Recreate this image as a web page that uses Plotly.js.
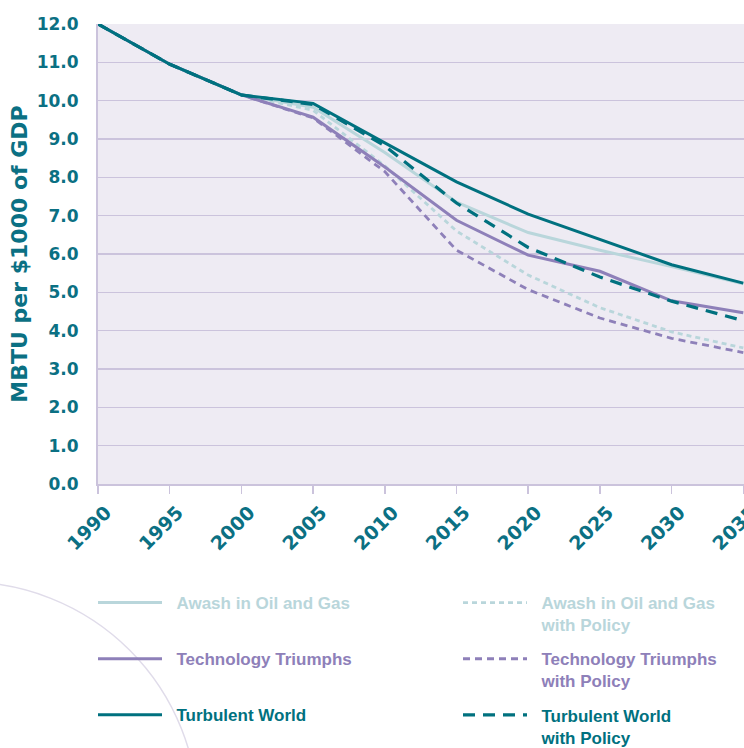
<!DOCTYPE html>
<html>
<head>
<meta charset="utf-8">
<script src="https://cdn.plot.ly/plotly-3.0.1.min.js"></script>
<style>
  html, body { margin: 0; padding: 0; background: #ffffff; overflow: hidden; width: 744px; height: 748px; }
  #chart { width: 744px; height: 760px; }
</style>
</head>
<body>
<div id="chart"></div>
<script>
// ---- data ----
const years = [1990, 1995, 2000, 2005, 2010, 2015, 2020, 2025, 2030, 2035];
const awash        = [12.0, 10.95, 10.15, 9.83, 8.65, 7.35, 6.56, 6.10, 5.67, 5.22];
const awashPolicy  = [12.0, 10.95, 10.15, 9.75, 8.30, 6.60, 5.45, 4.60, 3.97, 3.55];
const tech         = [12.0, 10.95, 10.15, 9.57, 8.27, 6.88, 5.97, 5.55, 4.78, 4.47];
const techPolicy   = [12.0, 10.95, 10.15, 9.55, 8.15, 6.10, 5.07, 4.33, 3.80, 3.43];
const turb         = [12.0, 10.95, 10.15, 9.93, 8.90, 7.88, 7.04, 6.38, 5.72, 5.24];
const turbPolicy   = [12.0, 10.95, 10.15, 9.90, 8.82, 7.33, 6.17, 5.40, 4.77, 4.26];

const seriesNames = [
  ["Awash in Oil and Gas"],
  ["Awash in Oil and Gas", "with Policy"],
  ["Technology Triumphs"],
  ["Technology Triumphs", "with Policy"],
  ["Turbulent World"],
  ["Turbulent World", "with Policy"]
];
const yTickVals = [0,1,2,3,4,5,6,7,8,9,10,11,12];
const xTickVals = years;

// ---- styles ----
const cLight = '#b9d6db';
const cPurple = '#8e80b9';
const cTeal = '#00717f';
const cText = '#0b7083';
const cGrid = '#cbc3dc';

function label(lines, color) {
  const pad = '\u00a0\u00a0';
  return lines.map(l => '<span style="color:' + color + '">' + pad + l + '</span>').join('<br>');
}

function tr(y, lines, color, dash, width, legend, rank) {
  return {
    x: years, y: y, name: label(lines, color), type: 'scatter', mode: 'lines',
    line: {color: color, dash: dash, width: width},
    legend: legend, legendgroup: 'g' + legend + rank, legendrank: rank,
    hoverinfo: 'skip'
  };
}

const data = [
  tr(awashPolicy, seriesNames[1], cLight, '5px,4px', 2.8, 'legend2', 1),
  tr(techPolicy,  seriesNames[3], cPurple, '7px,5px', 2.8, 'legend2', 2),
  tr(awash,       seriesNames[0], cLight, 'solid', 3, 'legend', 1),
  tr(tech,        seriesNames[2], cPurple, 'solid', 3, 'legend', 2),
  tr(turbPolicy,  seriesNames[5], cTeal, '12px,8px', 3.2, 'legend2', 3),
  tr(turb,        seriesNames[4], cTeal, 'solid', 3, 'legend', 3)
];

const legFont = {family: 'Liberation Sans, Arial, sans-serif', size: 17, weight: 'bold'};
// plot area: x 98..744, y 24..484 (460 px tall, 646 px wide)
const legTop = -(585 - 484) / 460;

const layout = {
  width: 744, height: 760,
  margin: {l: 98, r: 0, t: 24, b: 276},
  paper_bgcolor: '#ffffff',
  plot_bgcolor: '#eeebf3',
  showlegend: true,
  xaxis: {
    range: [1990, 2035.05],
    tickvals: xTickVals,
    ticktext: xTickVals.map(String),
    tickangle: -45,
    ticks: 'outside', ticklen: 8, tickwidth: 1.5, tickcolor: cGrid,
    ticklabelshift: 8,
    ticklabeloverflow: 'allow',
    automargin: false,
    showgrid: false, zeroline: false,
    showline: true, linecolor: cGrid, linewidth: 2,
    tickfont: {family: 'DejaVu Sans, Verdana, sans-serif', size: 19, color: cText, weight: 'bold'},
    fixedrange: true
  },
  yaxis: {
    range: [0, 12],
    tickvals: yTickVals,
    tickformat: '.1f',
    ticks: '', showgrid: true, gridcolor: cGrid, gridwidth: 1.5,
    zeroline: false,
    showline: true, linecolor: cGrid, linewidth: 2,
    ticklabelstandoff: 14,
    tickfont: {family: 'DejaVu Sans, Verdana, sans-serif', size: 17, color: cText, weight: 'bold'},
    title: {
      text: 'MBTU per $1000 of GDP',
      font: {family: 'DejaVu Sans, Verdana, sans-serif', size: 22, color: cText, weight: 'bold'},
      standoff: 3
    },
    fixedrange: true
  },
  legend: {
    x: (93 - 98) / 646, y: legTop,
    xanchor: 'left', yanchor: 'top',
    orientation: 'v',
    bgcolor: 'rgba(0,0,0,0)',
    itemwidth: 64,
    tracegroupgap: 31,
    valign: 'top',
    font: legFont,
    traceorder: 'grouped'
  },
  legend2: {
    x: (458 - 98) / 646, y: legTop,
    xanchor: 'left', yanchor: 'top',
    orientation: 'v',
    bgcolor: 'rgba(0,0,0,0)',
    itemwidth: 64,
    tracegroupgap: 9,
    valign: 'top',
    font: legFont,
    traceorder: 'grouped'
  },
  shapes: [{
    type: 'circle', xref: 'paper', yref: 'paper', layer: 'below',
    x0: (-35 - 233 - 98) / 646, x1: (-35 + 233 - 98) / 646,
    y0: (484 - (815 + 233)) / 460, y1: (484 - (815 - 233)) / 460,
    line: {color: '#e0dcea', width: 1.5}
  }]
};

Plotly.newPlot('chart', data, layout, {staticPlot: true, displayModeBar: false});
</script>
</body>
</html>
